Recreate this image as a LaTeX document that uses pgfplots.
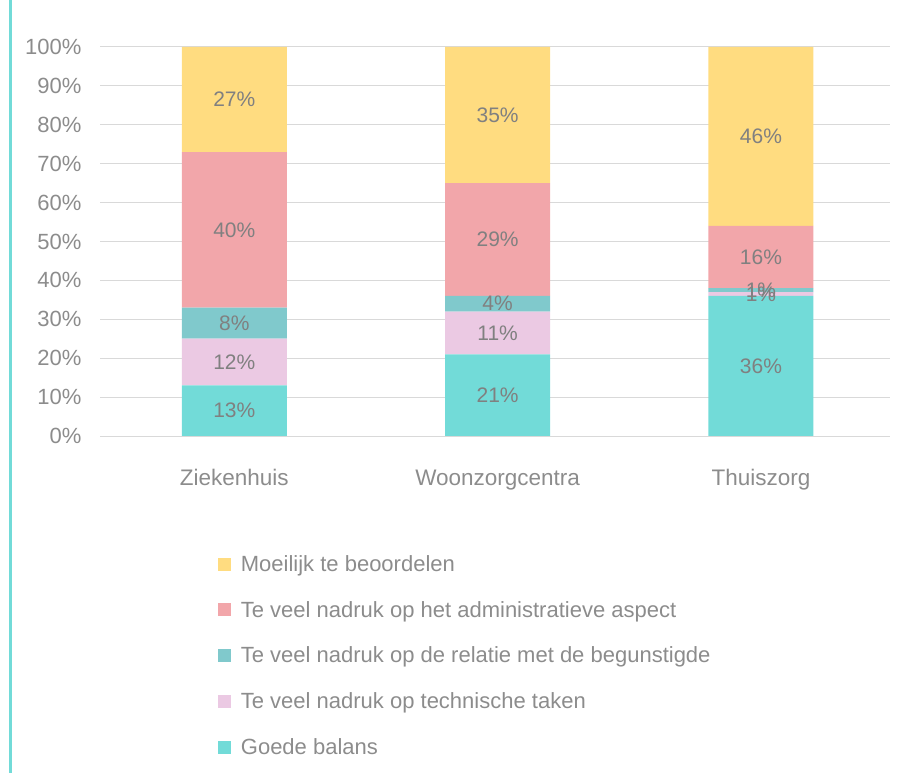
\documentclass[border=0pt]{standalone}
\usepackage{pgfplots}
\pgfplotsset{compat=1.18}
\usepackage{fontspec}
\setmainfont{Liberation Sans}
\definecolor{cYel}{HTML}{FFDC80}
\definecolor{cPink}{HTML}{F2A6AA}
\definecolor{cDTeal}{HTML}{80C9CC}
\definecolor{cLPink}{HTML}{EBC9E3}
\definecolor{cTeal}{HTML}{72DBD8}
\definecolor{cGrid}{HTML}{D9D9D9}
\definecolor{cTxt}{HTML}{8C8C8C}
\definecolor{cLab}{HTML}{808080}
\begin{document}
\begin{tikzpicture}
\useasboundingbox (0,0) rectangle (906bp,773bp);
\draw[cTeal, line width=2.5bp] (10.5bp,0) -- (10.5bp,773bp);
\begin{axis}[
  at={(100bp,337bp)}, anchor=south west,
  scale only axis, width=790bp, height=389bp,
  ybar stacked, bar width=105bp,
  xmin=-0.51, xmax=2.49, ymin=0, ymax=100,
  xtick={0,1,2}, xticklabels={Ziekenhuis,Woonzorgcentra,Thuiszorg},
  ytick={0,10,...,100},
  yticklabel={\pgfmathprintnumber{\tick}\%},
  /pgf/number format/assume math mode=true,
  axis line style={draw=none},
  major tick length=0pt,
  ymajorgrids, grid style={cGrid, line width=1bp},
  ticklabel style={text=cTxt},
  yticklabel style={font=\fontsize{22bp}{26bp}\selectfont, xshift=-15bp},
  xticklabel style={font=\fontsize{22.5bp}{26bp}\selectfont, yshift=-30bp},
  point meta=rawy,
  nodes near coords={\pgfmathprintnumber{\pgfplotspointmeta}\%},
  every node near coord/.append style={
    font=\fontsize{21bp}{25bp}\selectfont, text=cLab, anchor=center},
  legend image code/.code={\fill[#1,draw=none] (0bp,-6.5bp) rectangle (13bp,6.5bp);},
  reverse legend,
  legend style={draw=none, fill=none, at={(0.149,-0.3015)}, anchor=north west,
    font=\fontsize{22bp}{26bp}\selectfont, text=cTxt, inner sep=0pt,
    row sep=24.3bp,
    /tikz/every odd column/.append style={column sep=8bp}},
  legend cell align=left,
]
\addplot[fill=cTeal, draw=none] coordinates {(0,13) (1,21) (2,36)};
\addplot[fill=cLPink, draw=none] coordinates {(0,12) (1,11) (2,1)};
\addplot[fill=cDTeal, draw=none] coordinates {(0,8) (1,4) (2,1)};
\addplot[fill=cPink, draw=none] coordinates {(0,40) (1,29) (2,16)};
\addplot[fill=cYel, draw=none] coordinates {(0,27) (1,35) (2,46)};
\legend{Goede balans, Te veel nadruk op technische taken, Te veel nadruk op de relatie met de begunstigde, Te veel nadruk op het administratieve aspect, Moeilijk te beoordelen}
\end{axis}
\end{tikzpicture}
\end{document}
